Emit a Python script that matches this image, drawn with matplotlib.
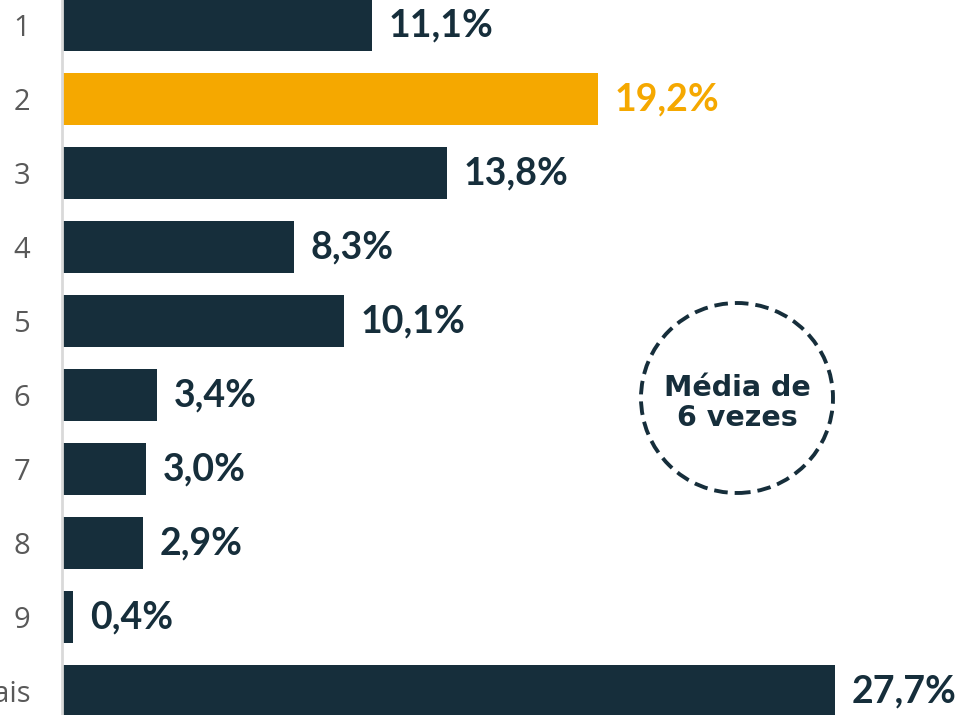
import matplotlib.pyplot as plt
from matplotlib.patches import Ellipse

# --- DATA ---------------------------------------------------------------------
categories = ["1", "2", "3", "4", "5", "6", "7", "8", "9", "10 ou mais"]
values     = [11.1, 19.2, 13.8, 8.3, 10.1, 3.4, 3.0, 2.9, 0.4, 27.7]
labels     = ["11,1%", "19,2%", "13,8%", "8,3%", "10,1%", "3,4%", "3,0%", "2,9%", "0,4%", "27,7%"]
highlight  = "2"
note_text  = "Média de\n6 vezes"

DARK   = "#162E3B"
ORANGE = "#F5A800"

# --- PLOT ---------------------------------------------------------------------
fig = plt.figure(figsize=(9.6, 7.15), dpi=100)
ax  = fig.add_axes([62 / 960, 0, 1 - 62 / 960, 1])

pos    = list(range(len(categories)))
colors = [ORANGE if c == highlight else DARK for c in categories]

ax.barh(pos, values, height=0.70, color=colors)

for p, v, lab, col in zip(pos, values, labels, colors):
    ax.annotate(lab, (v, p), xytext=(17, 0), textcoords="offset pixels",
                ha="left", va="center", fontsize=27, fontweight="bold",
                color=col, family="Lato")

ax.set_xlim(0, 32.19)
ax.set_ylim(9.324, -0.338)
ax.set_yticks(pos)
ax.set_yticklabels(categories, fontsize=21, color="#595959", family="Open Sans")
ax.tick_params(axis="y", length=0, pad=23)
ax.set_xticks([])

for s in ["top", "right", "bottom"]:
    ax.spines[s].set_visible(False)
ax.spines["left"].set_color("#D9D9D9")
ax.spines["left"].set_linewidth(2)

# dashed circle with the average note
circ = Ellipse((737 / 960, 1 - 398 / 715), 192 / 960, 190 / 715,
               transform=fig.transFigure, fill=False, edgecolor=DARK,
               linewidth=2.8, linestyle=(0, (3.5, 1.8)))
fig.patches.append(circ)
fig.text(737 / 960, 1 - 403 / 715, note_text, ha="center", va="center",
         fontsize=20.5, fontweight="bold", color=DARK, linespacing=1.1,
         family="DejaVu Sans")

plt.savefig("out.png", dpi=100)
